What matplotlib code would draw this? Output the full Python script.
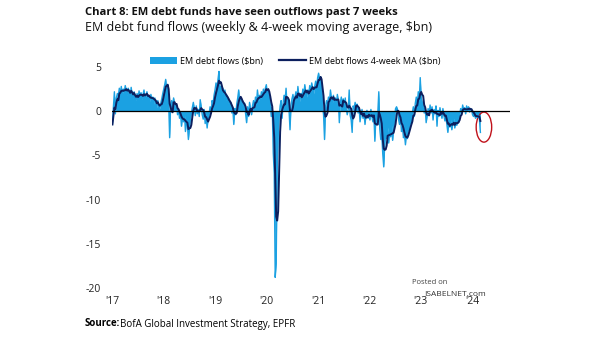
import pandas as pd
import matplotlib
matplotlib.use("Agg")
import matplotlib.pyplot as plt
from matplotlib.patches import Ellipse, Patch
from matplotlib.lines import Line2D

plt.rcParams['font.family'] = ['Open Sans', 'DejaVu Sans']

# weekly EM debt fund flows, $bn (one value per week)
flows_2017 = [-1.5, 0.5, 2.2, -0.3, 1.5, 2.0, 1.8, 2.6, 2.0, 2.8, 1.9, 2.5, 2.2, 2.9, 2.4, 1.8,
              2.6, 2.3, 1.6, 2.7, 1.9, 1.4, 2.2, 1.7, 1.2, 2.0, 1.5, 2.3, 1.6, 2.1, 1.3, 1.9,
              2.4, 1.5, 1.8, 2.2, 1.4, 1.7, 1.1, 1.9, 1.3, 1.6, 0.8, 1.5, 0.9, 0.4, 1.2, 0.6,
              0.3, 0.9, 1.4, 2.0]
flows_2018 = [2.5, 3.0, 3.6, 2.4, 3.0, 1.0, -3.0, 0.8, 1.2, 0.5, 1.5, 0.9, 0.2, 0.7, -0.4, 0.3,
              -0.8, -0.2, -1.7, -0.5, -1.2, -0.3, -2.3, -1.0, -1.6, -3.2, -2.0, -0.8, -0.2, 0.4,
              1.0, 0.3, -0.5, 0.6, -0.3, 0.2, -0.6, 1.3, 0.5, -0.4, -0.9, 0.2, -1.4, -0.6, -1.9,
              -0.8, -0.3, 0.5, -0.2, 1.2, 0.8, 1.8]
flows_2019 = [2.4, 3.2, 2.5, 3.6, 4.5, 2.2, 2.8, 1.9, 2.6, 1.5, 2.4, 1.2, 1.8, 0.9, 1.4, 0.5,
              1.0, -0.2, 0.4, -1.5, 0.3, -0.4, 0.8, 1.5, 2.4, 1.0, 1.6, 0.7, 1.2, 0.3, 0.9, -0.3,
              -1.3, 0.5, -0.6, 1.0, 0.2, -0.4, 0.6, 1.2, 0.4, 1.6, 0.8, 2.4, 1.1, 1.8, 1.3, 2.2,
              1.7, 2.5, 1.9, 2.6]
flows_2020 = [3.0, 2.0, 2.4, 1.5, 0.8, -0.6, 0.5, -4.7, -7.0, -18.8, -17.2, -6.5, -2.8, -0.6,
              0.6, 1.2, -0.8, 0.9, 1.8, 1.2, 2.6, 0.8, 1.4, 0.2, -2.1, 0.6, 1.4, 1.9, 1.0, 1.6,
              2.2, 1.3, 2.8, 1.7, 1.1, 2.0, 1.5, 2.5, 1.8, 3.0, 2.1, 1.6, 2.4, 1.9, 2.9, 2.2,
              3.2, 2.6, 2.0, 2.8, 3.4, 2.6]
flows_2021 = [3.8, 4.3, 3.5, 3.9, 2.8, 0.6, -0.4, -3.2, 0.5, 1.2, 0.8, 1.6, 1.0, 2.4, 1.3, 0.9,
              1.8, 1.1, 1.5, 0.7, 1.9, 1.2, -1.3, 1.0, 1.6, 0.8, 1.4, 0.5, 1.5, 0.3, -0.4, 0.2,
              2.4, -0.5, -1.0, -2.4, 0.6, 0.3, 1.0, 0.5, 0.8, -0.2, 0.4, -1.2, -0.3, 0.2, -0.8,
              -0.2, -1.5, -0.5, 0.1, -0.8]
flows_2022 = [-0.4, -1.0, 0.2, -0.6, -1.2, -0.3, -3.4, -0.9, -1.5, -0.2, 2.2, -2.0, -3.2, -2.6,
              -4.8, -6.3, -3.8, -2.4, -3.1, -1.8, -3.6, -2.2, -2.9, -1.6, -3.3, -2.0, -0.8, 0.3,
              0.5, 0.2, -0.9, -1.5, -0.6, -2.3, -1.8, -3.0, -2.6, -3.8, -2.4, -3.1, -1.6, -2.2,
              -0.9, -1.4, -0.2, 0.5, -0.6, 0.9, 1.6, 0.7, 2.2, 1.2]
flows_2023 = [3.8, 1.5, 1.0, 0.6, -0.2, 0.4, -1.3, -0.5, 0.3, -0.4, 0.7, -0.2, 0.5, -1.0, 0.2,
              -0.3, 0.6, -1.7, 0.1, -0.6, 0.4, -0.2, -0.8, 0.3, -0.5, -1.1, -0.7, -1.5, -2.4,
              -1.0, -1.8, -0.9, -2.1, -1.4, -0.8, -1.9, -1.2, -1.6, -0.7, -1.3, -0.4, 0.3, -0.2,
              0.7, 0.1, 0.4, -0.3, 0.6, 0.2, 0.5, -0.1, 0.3]
flows_2024 = [0.2, -0.4, -0.6, -0.3, -0.8, -0.5, -0.7, -0.4, -0.9, -2.4]

flows = (flows_2017 + flows_2018 + flows_2019 + flows_2020 + flows_2021 + flows_2022
         + flows_2023 + flows_2024)
dates = pd.date_range("2017-01-04", periods=len(flows), freq="7D")
weekly = pd.Series(flows, index=dates)
ma4 = weekly.rolling(4, min_periods=1).mean()

years = [2017, 2018, 2019, 2020, 2021, 2022, 2023, 2024]
year_labels = ["'17", "'18", "'19", "'20", "'21", "'22", "'23", "'24"]
y_ticks = [5, 0, -5, -10, -15, -20]

light = "#1ba1e2"
navy = "#0c1f5e"

fig = plt.figure(figsize=(6.05, 3.41), dpi=100)
ax = fig.add_axes([112 / 605, 1 - 288 / 341, (510 - 112) / 605, (288 - 67) / 341])

ax.fill_between(dates, weekly.values, 0, color=light, lw=0)
ax.plot(dates, weekly.values, color=light, lw=1.0)
ax.plot(dates, ma4.values, color=navy, lw=1.4)
ax.axhline(0, color="black", lw=0.9)

ax.set_xlim(pd.Timestamp("2017-01-01"), pd.Timestamp("2024-09-25"))
ax.set_ylim(-20, 5)
ax.set_yticks(y_ticks)
ax.set_yticklabels([str(v) for v in y_ticks])
ax.set_xticks([pd.Timestamp(f"{y}-01-01") for y in years])
ax.set_xticklabels(year_labels)
ax.tick_params(axis="both", length=0, labelsize=7.5, colors="#222222")
ax.tick_params(axis="x", pad=6)
ax.tick_params(axis="y", pad=8)
for s in ax.spines.values():
    s.set_visible(False)

# red circle around the latest weeks
last_date = dates[-1]
ell = Ellipse((last_date + pd.Timedelta(days=25), flows[-1] + 0.6), width=110, height=3.4,
              fill=False, edgecolor="#c0121b", lw=1.0)
ax.add_patch(ell)

handles = [Patch(facecolor=light, edgecolor="none"),
           Line2D([0], [0], color=navy, lw=1.6)]
ax.legend(handles, ["EM debt flows ($bn)", "EM debt flows 4-week MA ($bn)"],
          loc="lower center", bbox_to_anchor=(0.46, 0.985), ncol=2, frameon=False,
          fontsize=6.5, handlelength=3.0, handleheight=0.9, columnspacing=1.8,
          borderpad=0, handletextpad=0.3)

fig.text(85 / 605, 1 - 12 / 341, "Chart 8: EM debt funds have seen outflows past 7 weeks",
         fontsize=8.1, fontweight="bold", va="center", color="#111111")
fig.text(85 / 605, 1 - 27 / 341, "EM debt fund flows (weekly & 4-week moving average, $bn)",
         fontsize=9, va="center", color="#111111")
fig.text(85 / 605, 1 - 324 / 341, "Source:", fontsize=7, fontweight="bold", va="center")
fig.text(120 / 605, 1 - 324 / 341, "BofA Global Investment Strategy, EPFR", fontsize=7,
         va="center")

fig.text(412 / 605, 1 - 283 / 341, "Posted on", fontsize=5.5, color="#444444", va="center")
fig.text(424 / 605, 1 - 294 / 341, "ISABELNET.com", fontsize=6, color="#333333", va="center")

fig.savefig("out.png", dpi=100)
